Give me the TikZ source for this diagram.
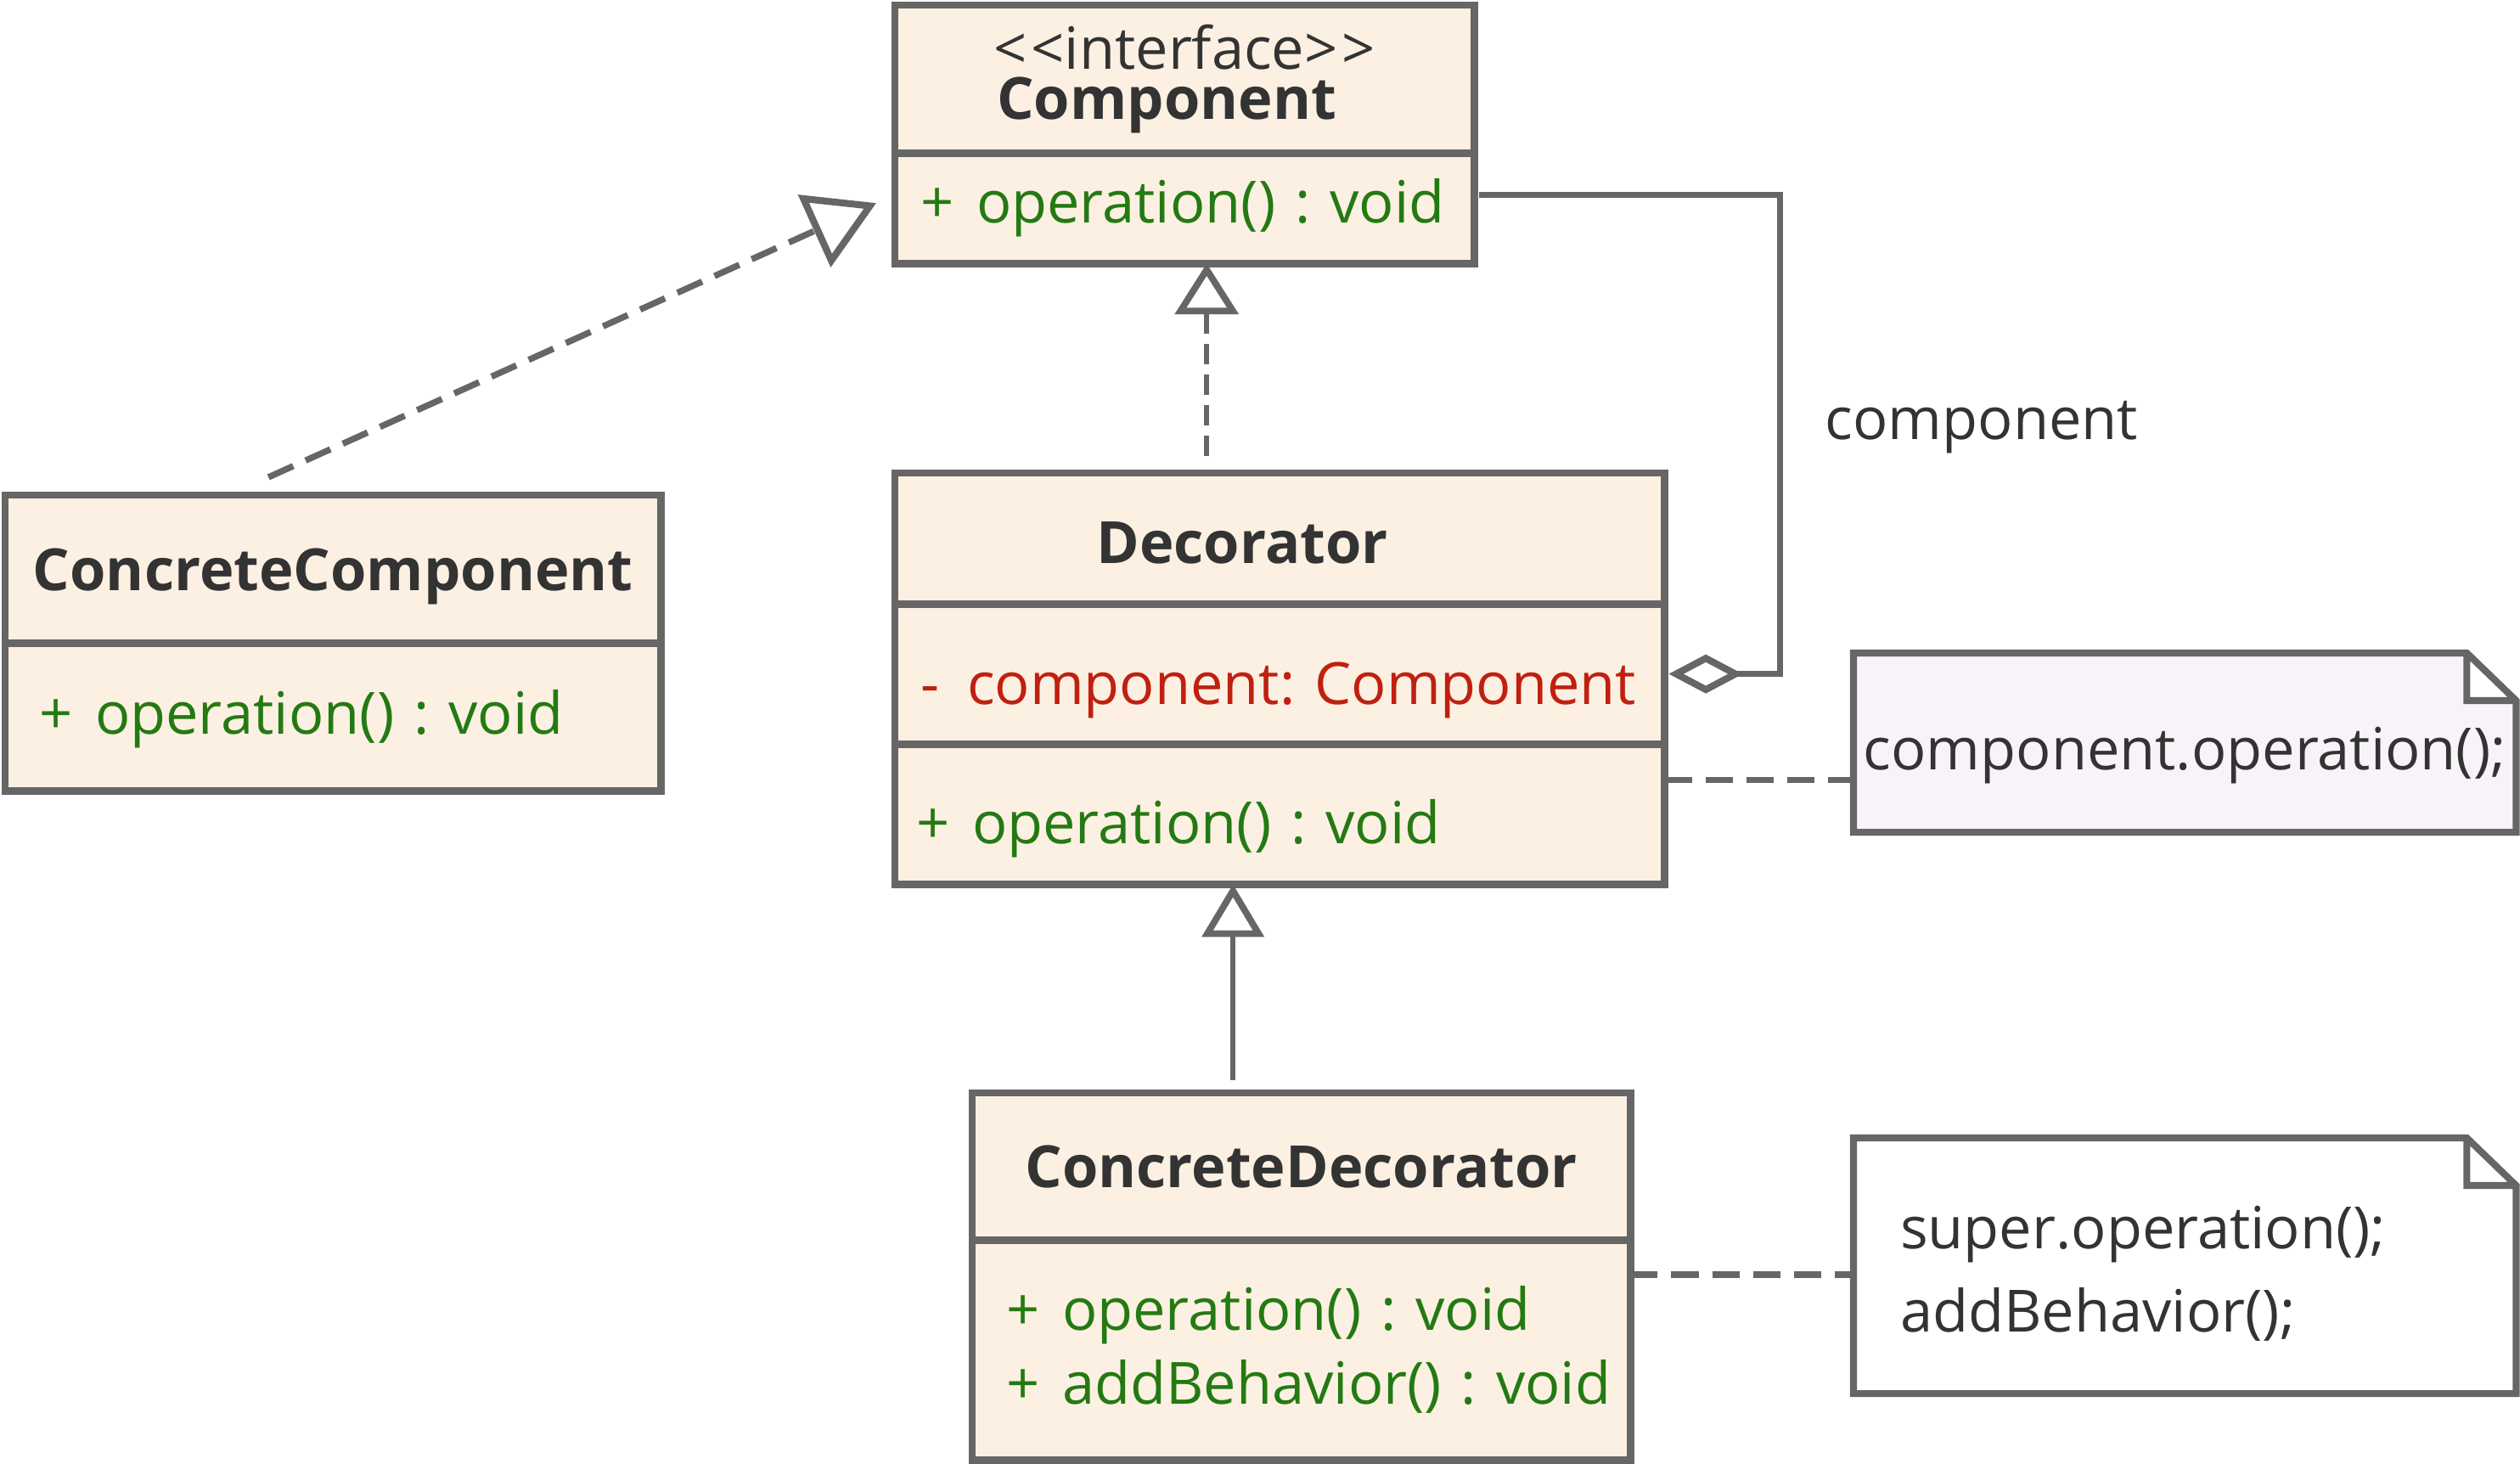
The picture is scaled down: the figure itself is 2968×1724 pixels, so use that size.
\documentclass[tikz,border=0pt]{standalone}
\usepackage{fontspec}
\setmainfont{Open Sans}
\usetikzlibrary{arrows.meta, positioning, backgrounds, calc}
\usepackage{xcolor}
\definecolor{mline}{RGB}{102,102,102}
\definecolor{mtext}{RGB}{51,51,51}
\definecolor{mgreen}{RGB}{36,122,18}
\definecolor{mred}{RGB}{192,32,16}
\definecolor{mfill}{RGB}{252,240,227}
\definecolor{mnote}{RGB}{248,243,248}
\newcommand{\vis}[3][0.66cm]{\mbox{\makebox[#1][l]{#2}#3}}
\newcommand{\dn}[2]{\raisebox{-#1}[\height][\depth]{#2}}
\frenchspacing

\begin{document}
\begin{tikzpicture}[x=0.01cm, y=-0.01cm,
  part/.style={draw=mline, line width=2.55pt, fill=mfill, anchor=north west,
  inner sep=0pt, outer sep=0pt, inner xsep=0.3cm, text=mtext, font=\fontsize{19.5}{24.7}\selectfont},
  title/.style={part, align=center, font=\fontsize{19.5}{24.7}\selectfont\bfseries},
  ops/.style={part, align=left, text=mgreen},
  notetext/.style={anchor=north west, inner sep=0pt, outer sep=0pt, text=mtext,
  font=\fontsize{19.5}{28}\selectfont},
  notebox/.style={draw=mline, line width=2.3pt},
  link/.style={draw=mline, line width=2.1pt, dash pattern=on 0.32cm off 0.16cm},
  realize/.style={draw=mline, line width=1.7pt, dash pattern=on 0.24cm off 0.12cm,
  -{Triangle[length=0.6cm, width=0.74cm, fill=white, line width=2.2pt]}},
  realizecc/.style={draw=mline, line width=2.1pt, dash pattern=on 0.32cm off 0.16cm,
  -{Triangle[length=0.8cm, width=0.92cm, fill=white, line width=2.3pt]}},
  inherit/.style={draw=mline, line width=1.8pt,
  -{Triangle[length=0.62cm, width=0.72cm, fill=white, line width=2.2pt]}},
  assoc/.style={draw=mline, line width=2pt,
  -{Diamond[length=0.87cm, width=0.46cm, fill=white, line width=2.3pt]}},
]
\useasboundingbox (0,0) rectangle (2968,1724);

\node[title, text width=6.22cm, minimum height=1.74cm] (chead) at (1054,6)
  {{\mdseries {<}\kern1.5pt{<}interface{>}\kern1.5pt{>}}\\[-7.7pt]Component\hspace*{0.42cm}};
\node[ops, text width=6.22cm, minimum height=1.30cm] (cop) at (chead.south west)
  {\vis{+}{operation() : void}};

\node[title, text width=7.12cm, minimum height=1.74cm] (cchead) at (6,583) {\dn{0.09cm}{ConcreteComponent}};
\node[ops, inner xsep=0.4cm, text width=6.92cm, minimum height=1.74cm] (ccop) at (cchead.south west)
  {\dn{0.03cm}{\vis{+}{operation() : void}}};

\node[title, text width=8.46cm, minimum height=1.54cm] (dhead) at (1054,557) {\dn{0.05cm}{Decorator}\hspace*{0.88cm}};
\node[part, text=mred, align=left, text width=8.46cm, minimum height=1.65cm] (dattr) at (dhead.south west)
  {\dn{0.19cm}{\vis[0.55cm]{-}{component: Component}}};
\node[ops, inner xsep=0.25cm, text width=8.56cm, minimum height=1.65cm] (dop) at (dattr.south west)
  {\dn{0.17cm}{\vis{+}{operation() : void}}};

\node[title, text width=7.15cm, minimum height=1.73cm] (cdhead) at (1145,1287) {ConcreteDecorator};
\node[ops, inner xsep=0.4cm, text width=6.95cm, minimum height=2.59cm] (cdop) at (cdhead.south west)
  {\vis{+}{operation() : void}\\\vis{+}{addBehavior() : void}};

\node[notetext, minimum width=7.8cm, minimum height=2.11cm] (n1) at (2183,769) {\dn{0.15cm}{component.operation();}};
\node[notetext, inner xsep=0.55cm, text width=6.7cm, align=left, minimum height=3.01cm] (n2) at (2183,1340)
  {\dn{0.09cm}{super.operation();}\\\dn{0.09cm}{addBehavior();}};

\node[text=mtext, font=\fontsize{19.5}{24.7}\selectfont] (rolename) at (2334,503) {component};

\begin{scope}[on background layer]
\foreach \n/\c in {n1/mnote, n2/white}
  \draw[notebox, fill=\c] (\n.north west) -- ([xshift=-0.58cm]\n.north east)
    -- ([yshift=-0.56cm]\n.north east) -- (\n.south east) -- (\n.south west) -- cycle
    ([xshift=-0.58cm]\n.north east) |- ([yshift=-0.56cm]\n.north east);
\end{scope}

\coordinate (dtop) at ([xshift=-0.86cm]dhead.north);
\coordinate (cdtop) at ([xshift=-0.805cm]cdhead.north);
\coordinate (cctop) at ([xshift=-0.76cm, yshift=0.21cm]cchead.north);
\coordinate (cctip) at ([xshift=-0.22cm, yshift=0.06cm]cop.west);
\coordinate (dlink) at ([yshift=0.405cm]dop.east);
\coordinate (cdlink) at ([yshift=0.885cm]cdop.east);

\draw[assoc, shorten <=0.06cm, shorten >=0.05cm] ([yshift=0.16cm]cop.east) -- ++(360,0) |- (dattr.east);
\draw[realize, shorten <=0.2cm] (dtop) -- (dtop |- cop.south);
\draw[inherit, shorten <=0.15cm] (cdtop) -- (cdtop |- dop.south);
\draw[realizecc] (cctop) -- (cctip);
\draw[link] (dlink) -- (dlink -| n1.west);
\draw[link] (cdlink) -- (cdlink -| n2.west);
\end{tikzpicture}
\end{document}
